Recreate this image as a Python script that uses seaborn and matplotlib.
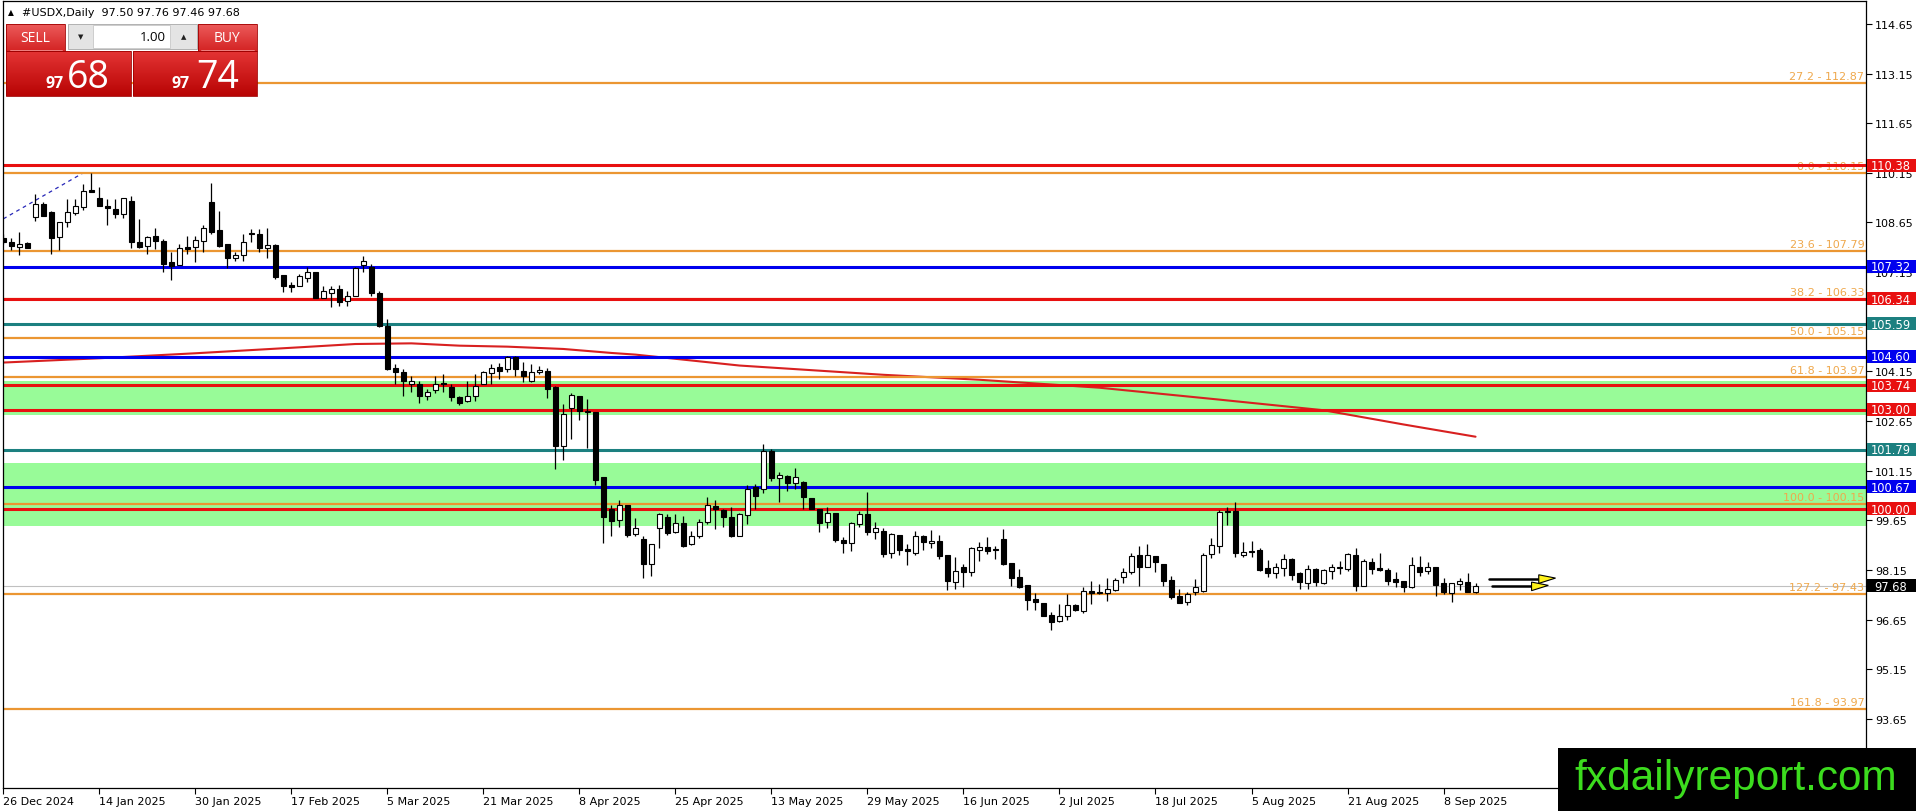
import numpy as np
import seaborn as sns
import matplotlib.pyplot as plt
from matplotlib.patches import Rectangle, Polygon
from matplotlib.colors import LinearSegmentedColormap

# daily candles, 26 Dec 2024 .. 12 Sep 2025
opens = [
    108.18, 108.05, 107.92, 108.03, 108.81, 109.21, 108.96, 108.20, 108.66, 108.94,
    109.13, 109.63, 109.38, 109.14, 109.06, 108.91, 109.31, 108.05, 107.93, 108.23,
    108.10, 107.47, 107.37, 107.90, 107.90, 108.10, 109.28, 108.43, 108.00, 107.57,
    107.67, 108.34, 108.30, 107.87, 107.97, 107.05, 106.76, 106.72, 106.96, 107.15,
    106.37, 106.51, 106.64, 106.29, 106.42, 107.37, 107.30, 106.52, 105.53, 104.27,
    104.12, 103.77, 103.77, 103.40, 103.60, 103.79, 103.67, 103.39, 103.25, 103.40,
    103.77, 104.09, 104.30, 104.22, 104.58, 104.17, 103.85, 104.12, 104.17, 103.67,
    101.89, 103.04, 103.42, 102.92, 102.94, 100.95, 99.99, 99.67, 100.11, 99.24,
    99.09, 98.33, 99.42, 99.77, 99.29, 99.56, 98.94, 99.17, 99.59, 100.09,
    99.96, 99.74, 99.19, 99.81, 100.65, 100.60, 101.76, 100.92, 101.00, 100.78,
    100.80, 100.32, 99.99, 99.59, 99.89, 99.06, 98.97, 99.54, 99.84, 99.29,
    99.34, 98.66, 99.21, 98.80, 98.68, 99.19, 98.96, 99.04, 98.60, 97.80,
    98.23, 98.10, 98.77, 98.84, 98.79, 99.09, 98.36, 97.93, 97.70, 97.27,
    97.15, 96.79, 96.62, 96.75, 97.09, 96.92, 97.51, 97.48, 97.46, 97.55,
    97.93, 98.08, 98.61, 98.26, 98.58, 98.35, 97.85, 97.38, 97.19, 97.48,
    97.53, 98.63, 98.87, 99.94, 99.94, 98.61, 98.73, 98.76, 98.20, 98.05,
    98.20, 98.48, 98.06, 97.75, 98.18, 97.75, 98.11, 98.23, 98.18, 98.60,
    97.68, 98.40, 98.21, 98.16, 97.88, 97.81, 97.65, 98.26, 98.13, 98.25,
    97.75, 97.45, 97.72, 97.78, 97.50,
]
highs = [
    108.30, 108.17, 108.35, 108.05, 109.51, 109.26, 109.01, 108.68, 109.36, 109.36,
    109.81, 110.15, 109.71, 109.36, 109.36, 109.38, 109.46, 108.76, 108.25, 108.47,
    108.15, 107.77, 108.00, 108.25, 108.23, 108.58, 109.84, 109.01, 108.00, 107.75,
    108.30, 108.46, 108.44, 108.47, 108.00, 107.05, 106.84, 107.10, 107.30, 107.15,
    106.72, 106.74, 106.76, 106.59, 107.30, 107.65, 107.40, 106.59, 105.74, 104.37,
    104.22, 104.02, 103.87, 103.62, 104.02, 104.07, 103.77, 103.42, 103.87, 104.07,
    104.17, 104.37, 104.42, 104.63, 104.63, 104.43, 104.38, 104.33, 104.27, 103.72,
    103.17, 103.49, 103.42, 103.32, 102.94, 100.95, 100.11, 100.26, 100.11, 99.71,
    99.17, 98.94, 99.89, 99.84, 99.86, 99.79, 99.34, 99.69, 100.35, 100.27,
    99.99, 100.06, 99.89, 100.73, 100.75, 101.96, 101.81, 101.12, 101.02, 101.22,
    100.85, 100.34, 99.99, 100.07, 99.89, 99.14, 99.59, 99.94, 100.52, 99.61,
    99.41, 99.27, 99.21, 98.94, 99.34, 99.21, 99.36, 99.21, 98.60, 98.56,
    98.33, 98.84, 99.01, 99.14, 98.89, 99.39, 98.36, 98.18, 97.70, 97.46,
    97.15, 96.89, 97.12, 97.43, 97.14, 97.63, 97.83, 97.73, 97.91, 97.91,
    98.20, 98.66, 98.89, 98.94, 98.58, 98.35, 97.96, 97.58, 97.48, 97.88,
    98.66, 99.11, 99.97, 100.07, 100.22, 98.99, 99.04, 98.81, 98.45, 98.38,
    98.63, 98.53, 98.08, 98.30, 98.20, 98.18, 98.33, 98.43, 98.68, 98.81,
    98.48, 98.53, 98.68, 98.20, 98.10, 97.83, 98.56, 98.58, 98.40, 98.25,
    97.90, 97.75, 97.90, 98.05, 97.76,
]
lows = [
    108.00, 107.83, 107.68, 107.87, 108.71, 108.84, 107.70, 107.83, 108.51, 108.88,
    109.04, 109.56, 109.14, 108.56, 108.78, 108.78, 107.87, 107.87, 107.70, 107.85,
    107.17, 106.92, 107.37, 107.70, 107.45, 107.75, 108.30, 107.90, 107.27, 107.50,
    107.50, 108.05, 107.75, 107.57, 106.95, 106.54, 106.54, 106.72, 106.84, 106.37,
    106.37, 106.09, 106.14, 106.12, 106.42, 107.15, 106.42, 105.48, 104.20, 103.77,
    103.42, 103.52, 103.20, 103.30, 103.50, 103.52, 103.27, 103.14, 103.22, 103.27,
    103.77, 103.77, 103.92, 104.14, 104.02, 103.84, 103.82, 104.07, 103.34, 101.20,
    101.49, 102.11, 102.69, 101.83, 100.72, 98.97, 99.17, 99.44, 99.14, 99.19,
    97.90, 97.98, 98.83, 99.21, 99.27, 98.86, 98.91, 99.11, 99.54, 99.39,
    99.44, 99.14, 99.19, 99.54, 99.99, 100.48, 100.85, 100.21, 100.55, 100.60,
    100.01, 100.00, 99.31, 99.41, 99.01, 98.66, 98.73, 99.44, 99.21, 99.09,
    98.56, 98.53, 98.60, 98.30, 98.60, 98.77, 98.82, 98.50, 97.56, 97.58,
    97.63, 97.98, 98.43, 98.63, 98.48, 98.30, 97.68, 97.61, 96.95, 96.95,
    96.75, 96.35, 96.59, 96.65, 96.92, 96.87, 97.12, 97.43, 97.22, 97.53,
    97.76, 98.03, 97.68, 98.23, 98.08, 97.66, 97.29, 97.15, 97.09, 97.40,
    97.48, 98.53, 98.66, 99.51, 98.56, 98.56, 98.56, 98.11, 97.93, 97.91,
    97.98, 97.86, 97.58, 97.58, 97.68, 97.73, 97.88, 98.03, 98.13, 97.53,
    97.68, 98.03, 98.13, 97.70, 97.63, 97.50, 97.60, 97.96, 98.03, 97.38,
    97.43, 97.19, 97.56, 97.48, 97.46,
]
closes = [
    108.05, 107.95, 108.00, 107.89, 109.21, 108.86, 108.18, 108.68, 108.96, 109.16,
    109.59, 109.56, 109.14, 109.08, 108.91, 109.38, 108.05, 107.90, 108.20, 108.10,
    107.40, 107.35, 107.87, 107.85, 108.12, 108.47, 108.37, 107.95, 107.57, 107.67,
    108.05, 108.30, 107.87, 107.97, 106.99, 106.74, 106.69, 107.02, 107.15, 106.37,
    106.59, 106.64, 106.24, 106.44, 107.27, 107.50, 106.51, 105.51, 104.24, 104.14,
    103.87, 103.87, 103.42, 103.54, 103.77, 103.76, 103.37, 103.20, 103.42, 103.70,
    104.12, 104.27, 104.15, 104.58, 104.24, 104.02, 104.14, 104.18, 103.62, 101.91,
    102.86, 103.45, 102.95, 102.97, 100.88, 99.74, 99.64, 100.11, 99.21, 99.41,
    98.33, 98.94, 99.86, 99.26, 99.56, 98.89, 99.17, 99.59, 100.11, 99.99,
    99.77, 99.19, 99.86, 100.60, 100.38, 101.76, 100.93, 101.03, 100.78, 100.95,
    100.35, 100.01, 99.57, 99.89, 99.07, 98.96, 99.56, 99.86, 99.31, 99.42,
    98.63, 99.24, 98.76, 98.72, 99.17, 98.99, 99.03, 98.58, 97.83, 98.12,
    98.10, 98.82, 98.84, 98.73, 98.75, 98.33, 97.91, 97.65, 97.25, 97.19,
    96.75, 96.59, 96.75, 97.09, 96.95, 97.51, 97.45, 97.45, 97.58, 97.85,
    98.08, 98.58, 98.26, 98.62, 98.40, 97.81, 97.33, 97.17, 97.43, 97.63,
    98.61, 98.91, 99.92, 99.91, 98.66, 98.71, 98.70, 98.16, 98.05, 98.23,
    98.48, 98.01, 97.78, 98.18, 97.80, 98.15, 98.25, 98.20, 98.63, 97.68,
    98.43, 98.18, 98.16, 97.83, 97.80, 97.65, 98.30, 98.10, 98.26, 97.70,
    97.48, 97.75, 97.82, 97.50, 97.68,
]

date_labels = ['26 Dec 2024', '14 Jan 2025', '30 Jan 2025', '17 Feb 2025', '5 Mar 2025',
               '21 Mar 2025', '8 Apr 2025', '25 Apr 2025', '13 May 2025', '29 May 2025',
               '16 Jun 2025', '2 Jul 2025', '18 Jul 2025', '5 Aug 2025', '21 Aug 2025',
               '8 Sep 2025']

# moving average (red curve), sampled at a few bars
ma_bars = [0, 12, 24, 37, 44, 51, 57, 63, 67, 70, 76, 79, 92, 110, 122, 137, 152, 165, 175, 184]
ma_values = [104.42, 104.55, 104.70, 104.88, 104.98, 105.00, 104.93, 104.90, 104.86, 104.83,
             104.71, 104.66, 104.33, 104.05, 103.90, 103.66, 103.30, 102.98, 102.55, 102.18]

fib_levels = [112.87, 110.15, 107.79, 106.33, 105.15, 103.97, 100.15, 97.43, 93.97]
fib_names = ['27.2', '0.0', '23.6', '38.2', '50.0', '61.8', '100.0', '127.2', '161.8']

red_levels = [110.38, 106.34, 103.74, 103.00, 100.00]
blue_levels = [107.32, 104.60, 100.67]
teal_levels = [105.59, 101.79]
green_zones = [(102.85, 103.86), (99.49, 101.39)]
last_price = 97.68
header = '#USDX,Daily  97.50 97.76 97.46 97.68'

RED = '#E81010'
BLUE = '#0000EE'
TEAL = '#1C8080'
ORANGE = '#EB9632'
FIB_TXT = '#EFA84C'

sns.set_theme(style='white')
plt.rcParams['font.family'] = ['DejaVu Sans']

W, H = 1916, 812
fig = plt.figure(figsize=(W / 100, H / 100), dpi=100)
fig.patch.set_facecolor('white')
ax = fig.add_axes([2.5 / W, 23 / H, 1863.5 / W, 787 / H])
ax.set_facecolor('white')

n = len(closes)
x = np.arange(n)
o = np.array(opens)
c = np.array(closes)
up = c >= o

for lo, hi in green_zones:
    ax.axhspan(lo, hi, color='#98FB98', lw=0, zorder=0.5)

ax.axhline(last_price, color='#C0C0C0', lw=0.8, zorder=1)

# moving average
sns.lineplot(x=ma_bars, y=ma_values, ax=ax, color='#D82020', lw=1.5, zorder=2)

# fibo base line (dotted)
ax.plot([0, 10], [108.76, 110.15], color='#2828B8', lw=0.9, ls=(0, (3, 3)), zorder=2)

for lv, nm in zip(fib_levels, fib_names):
    ax.axhline(lv, color=ORANGE, lw=1.6, zorder=2)
    ax.text(232.6, lv + 0.06, f'{nm} - {lv:.2f}', color=FIB_TXT, fontsize=8,
            ha='right', va='bottom', zorder=2.1)
for lv in teal_levels:
    ax.axhline(lv, color=TEAL, lw=2.2, zorder=2.2)
for lv in blue_levels:
    ax.axhline(lv, color=BLUE, lw=2.2, zorder=2.2)
for lv in red_levels:
    ax.axhline(lv, color=RED, lw=2.2, zorder=2.2)

# candles on top of the objects
ax.vlines(x, lows, highs, color='black', lw=0.9, zorder=3)
body_low = np.minimum(o, c)
body_h = np.maximum(np.abs(c - o), 0.025)
ax.bar(x, body_h, bottom=body_low, width=0.6,
       color=np.where(up, 'white', 'black'), edgecolor='black', linewidth=0.8, zorder=4)

# yellow arrows
for y0, xs, xe, xt in [(97.88, 185.7, 191.9, 194.0), (97.66, 186.1, 191.0, 193.1)]:
    ax.plot([xs, xe], [y0, y0], color='black', lw=1.8, zorder=7)
    ax.add_patch(Polygon([[xe, y0 + 0.13], [xt, y0 + 0.03], [xe, y0 - 0.13]], closed=True,
                         fc='#FFF21A', ec='black', lw=0.8, zorder=8))

ax.set_xlim(-0.1, 232.8)
ax.set_ylim(91.57, 115.34)

yt = np.arange(93.65, 114.7, 1.5)
ax.yaxis.tick_right()
ax.set_yticks(yt)
# 105.65 sits fully under the 105.59 tag, so it is left blank as in the terminal
ax.set_yticklabels(['' if abs(v - 105.65) < 0.01 else f'{v:.2f}' for v in yt])
ax.set_xticks(np.arange(0, n, 12))
ax.set_xticklabels(date_labels, ha='left')
ax.tick_params(axis='y', which='both', right=True, left=False, direction='out', length=4,
               width=0.8, color='black', labelsize=8, pad=2.5, labelcolor='black')
ax.tick_params(axis='x', which='both', bottom=True, direction='out', length=4,
               width=0.8, color='black', labelsize=8, pad=2, labelcolor='black')
for s in ax.spines.values():
    s.set_color('black')
    s.set_linewidth(0.9)
ax.grid(False)

# price tags on the right scale
tags = ([(v, RED) for v in red_levels] + [(v, BLUE) for v in blue_levels] +
        [(v, TEAL) for v in teal_levels] + [(last_price, 'black')])
bh = 13 / 33.1
for v, col in tags:
    ax.add_patch(Rectangle((1.0006, v - bh / 2), 0.0262, bh, transform=ax.get_yaxis_transform(),
                           fc=col, ec='none', clip_on=False, zorder=20))
    ax.text(1.0006 + 0.0128, v - 0.01, f'{v:.2f}', transform=ax.get_yaxis_transform(), color='white',
            fontsize=8.3, ha='center', va='center', clip_on=False, zorder=21)

# overlay in pixel coordinates for the trade panel and the watermark
ov = fig.add_axes([0, 0, 1, 1], zorder=30)
ov.set_xlim(0, W)
ov.set_ylim(H, 0)
ov.axis('off')
ov.patch.set_alpha(0)

ov.text(10.5, 13, '▲', fontsize=5.5, ha='center', va='center', color='black')
ov.text(22, 13, header, fontsize=8, ha='left', va='center', color='black')

btn_cmap = LinearSegmentedColormap.from_list('btn', ['#EC5A5A', '#D42424'])
box_cmap = LinearSegmentedColormap.from_list('box', ['#E43434', '#B80404'])
grad = np.linspace(0, 1, 64).reshape(-1, 1)
for (x0, y0, x1, y1, cm) in [(6, 25, 65, 52, btn_cmap), (198, 25, 257, 52, btn_cmap),
                             (6, 52, 131, 97, box_cmap), (133, 52, 257, 97, box_cmap)]:
    ov.imshow(grad, extent=[x0, x1, y1, y0], cmap=cm, aspect='auto', zorder=1)
    ov.add_patch(Rectangle((x0, y0), x1 - x0, y1 - y0, fc='none', ec='#A00000', lw=0.6, zorder=2))
ov.plot([10, 62], [51, 51], color='#F29090', lw=0.6, zorder=3)
ov.plot([201, 254], [51, 51], color='#F29090', lw=0.6, zorder=3)

ov.add_patch(Rectangle((68, 25), 129, 25, fc='#E4E4E4', ec='#A8A8A8', lw=0.6, zorder=1))
ov.add_patch(Rectangle((93, 26), 77, 23, fc='white', ec='#C8C8C8', lw=0.6, zorder=2))
ov.text(80.5, 37.5, '▼', fontsize=5, ha='center', va='center', color='#202020', zorder=3)
ov.text(183.5, 37, '▲', fontsize=5, ha='center', va='center', color='#202020', zorder=3)
ov.text(166, 37.5, '1.00', fontsize=9.5, ha='right', va='center', color='black',
        family=['Open Sans', 'DejaVu Sans'], zorder=3)
ov.text(35.5, 39, 'SELL', fontsize=10, ha='center', va='center', color='white',
        family=['Open Sans', 'DejaVu Sans'], zorder=3)
ov.text(227.5, 39, 'BUY', fontsize=10, ha='center', va='center', color='white',
        family=['Open Sans', 'DejaVu Sans'], zorder=3)
for xs, xb, big in [(54.5, 88, '68'), (181, 217.5, '74')]:
    ov.text(xs, 87.5, '97', fontsize=11.5, fontweight='bold', ha='center', va='baseline',
            color='white', family=['Open Sans', 'DejaVu Sans'], zorder=3)
    ov.text(xb, 87.5, big, fontsize=27, ha='center', va='baseline', color='white',
            family=['Open Sans', 'DejaVu Sans'], zorder=3)

ov.add_patch(Rectangle((1558, 749), W - 1558, H - 749, fc='black', ec='none', zorder=5))
ov.text(1736, 790, 'fxdailyreport.com', fontsize=30.5, color='#3CDC1E', ha='center', va='baseline',
        family=['Liberation Sans', 'DejaVu Sans'], zorder=6)

fig.savefig('out.png', dpi=100, facecolor='white')
